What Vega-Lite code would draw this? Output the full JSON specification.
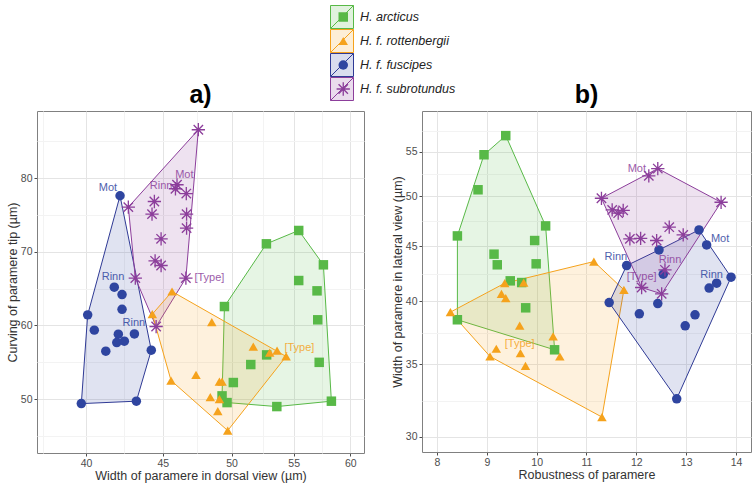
{
  "$schema": "https://vega.github.io/schema/vega-lite/v6.json",
  "padding": 5,
  "spacing": 25,
  "datasets": {
    "pts": [
      {"p": "a", "sp": "H. f. fuscipes", "x": 42.14, "y": 77.6, "h": 1},
      {"p": "a", "sp": "H. f. fuscipes", "x": 41.77, "y": 65.2, "h": null},
      {"p": "a", "sp": "H. f. fuscipes", "x": 42.27, "y": 64.2, "h": null},
      {"p": "a", "sp": "H. f. fuscipes", "x": 42.27, "y": 62.2, "h": null},
      {"p": "a", "sp": "H. f. fuscipes", "x": 40.10, "y": 61.44, "h": 5},
      {"p": "a", "sp": "H. f. fuscipes", "x": 40.51, "y": 59.37, "h": null},
      {"p": "a", "sp": "H. f. fuscipes", "x": 42.03, "y": 58.82, "h": null},
      {"p": "a", "sp": "H. f. fuscipes", "x": 43.08, "y": 58.86, "h": null},
      {"p": "a", "sp": "H. f. fuscipes", "x": 41.93, "y": 57.68, "h": null},
      {"p": "a", "sp": "H. f. fuscipes", "x": 42.42, "y": 57.87, "h": null},
      {"p": "a", "sp": "H. f. fuscipes", "x": 41.23, "y": 56.52, "h": null},
      {"p": "a", "sp": "H. f. fuscipes", "x": 44.21, "y": 56.65, "h": 2},
      {"p": "a", "sp": "H. f. fuscipes", "x": 39.71, "y": 49.4, "h": 4},
      {"p": "a", "sp": "H. f. fuscipes", "x": 43.21, "y": 49.73, "h": 3},
      {"p": "a", "sp": "H. f. subrotundus", "x": 47.52, "y": 86.56, "h": 1},
      {"p": "a", "sp": "H. f. subrotundus", "x": 42.68, "y": 76.06, "h": 5},
      {"p": "a", "sp": "H. f. subrotundus", "x": 45.99, "y": 79.09, "h": null},
      {"p": "a", "sp": "H. f. subrotundus", "x": 45.88, "y": 78.55, "h": null},
      {"p": "a", "sp": "H. f. subrotundus", "x": 46.65, "y": 77.9, "h": null},
      {"p": "a", "sp": "H. f. subrotundus", "x": 44.42, "y": 76.82, "h": null},
      {"p": "a", "sp": "H. f. subrotundus", "x": 44.26, "y": 75.11, "h": null},
      {"p": "a", "sp": "H. f. subrotundus", "x": 46.67, "y": 75.11, "h": null},
      {"p": "a", "sp": "H. f. subrotundus", "x": 46.67, "y": 73.21, "h": null},
      {"p": "a", "sp": "H. f. subrotundus", "x": 44.88, "y": 71.76, "h": null},
      {"p": "a", "sp": "H. f. subrotundus", "x": 44.47, "y": 68.77, "h": null},
      {"p": "a", "sp": "H. f. subrotundus", "x": 44.88, "y": 68.14, "h": null},
      {"p": "a", "sp": "H. f. subrotundus", "x": 43.14, "y": 66.43, "h": 4},
      {"p": "a", "sp": "H. f. subrotundus", "x": 46.62, "y": 66.43, "h": 2},
      {"p": "a", "sp": "H. f. subrotundus", "x": 44.54, "y": 59.86, "h": 3},
      {"p": "a", "sp": "H. arcticus", "x": 55.43, "y": 72.89, "h": 1},
      {"p": "a", "sp": "H. arcticus", "x": 52.75, "y": 71.08, "h": 8},
      {"p": "a", "sp": "H. arcticus", "x": 57.57, "y": 68.23, "h": 2},
      {"p": "a", "sp": "H. arcticus", "x": 55.43, "y": 66.1, "h": null},
      {"p": "a", "sp": "H. arcticus", "x": 57.01, "y": 64.7, "h": null},
      {"p": "a", "sp": "H. arcticus", "x": 49.46, "y": 62.57, "h": 7},
      {"p": "a", "sp": "H. arcticus", "x": 57.07, "y": 60.77, "h": null},
      {"p": "a", "sp": "H. arcticus", "x": 52.77, "y": 56.01, "h": null},
      {"p": "a", "sp": "H. arcticus", "x": 51.5, "y": 54.7, "h": null},
      {"p": "a", "sp": "H. arcticus", "x": 57.2, "y": 55.0, "h": null},
      {"p": "a", "sp": "H. arcticus", "x": 50.14, "y": 52.26, "h": null},
      {"p": "a", "sp": "H. arcticus", "x": 49.28, "y": 50.45, "h": 6},
      {"p": "a", "sp": "H. arcticus", "x": 49.66, "y": 49.54, "h": 5},
      {"p": "a", "sp": "H. arcticus", "x": 53.6, "y": 49.0, "h": 4},
      {"p": "a", "sp": "H. arcticus", "x": 58.28, "y": 49.73, "h": 3},
      {"p": "a", "sp": "H. f. rottenbergii", "x": 45.64, "y": 64.61, "h": 1},
      {"p": "a", "sp": "H. f. rottenbergii", "x": 44.28, "y": 61.54, "h": 5},
      {"p": "a", "sp": "H. f. rottenbergii", "x": 48.51, "y": 60.45, "h": null},
      {"p": "a", "sp": "H. f. rottenbergii", "x": 51.7, "y": 57.14, "h": null},
      {"p": "a", "sp": "H. f. rottenbergii", "x": 53.02, "y": 56.33, "h": null},
      {"p": "a", "sp": "H. f. rottenbergii", "x": 53.62, "y": 56.6, "h": null},
      {"p": "a", "sp": "H. f. rottenbergii", "x": 54.37, "y": 55.8, "h": 2},
      {"p": "a", "sp": "H. f. rottenbergii", "x": 45.57, "y": 52.53, "h": 4},
      {"p": "a", "sp": "H. f. rottenbergii", "x": 47.35, "y": 53.3, "h": null},
      {"p": "a", "sp": "H. f. rottenbergii", "x": 49.08, "y": 52.39, "h": null},
      {"p": "a", "sp": "H. f. rottenbergii", "x": 49.28, "y": 52.39, "h": null},
      {"p": "a", "sp": "H. f. rottenbergii", "x": 48.4, "y": 50.27, "h": null},
      {"p": "a", "sp": "H. f. rottenbergii", "x": 49.08, "y": 50.0, "h": null},
      {"p": "a", "sp": "H. f. rottenbergii", "x": 48.96, "y": 48.37, "h": null},
      {"p": "a", "sp": "H. f. rottenbergii", "x": 49.71, "y": 45.74, "h": 3},
      {"p": "b", "sp": "H. arcticus", "x": 9.38, "y": 56.91, "h": 1},
      {"p": "b", "sp": "H. arcticus", "x": 8.944, "y": 54.64, "h": 6},
      {"p": "b", "sp": "H. arcticus", "x": 8.824, "y": 50.72, "h": null},
      {"p": "b", "sp": "H. arcticus", "x": 8.41, "y": 45.98, "h": 5},
      {"p": "b", "sp": "H. arcticus", "x": 10.18, "y": 46.97, "h": 2},
      {"p": "b", "sp": "H. arcticus", "x": 9.96, "y": 45.53, "h": null},
      {"p": "b", "sp": "H. arcticus", "x": 9.145, "y": 44.23, "h": null},
      {"p": "b", "sp": "H. arcticus", "x": 9.21, "y": 43.24, "h": null},
      {"p": "b", "sp": "H. arcticus", "x": 9.99, "y": 43.33, "h": null},
      {"p": "b", "sp": "H. arcticus", "x": 9.47, "y": 41.79, "h": null},
      {"p": "b", "sp": "H. arcticus", "x": 9.7, "y": 41.64, "h": null},
      {"p": "b", "sp": "H. arcticus", "x": 9.78, "y": 39.46, "h": null},
      {"p": "b", "sp": "H. arcticus", "x": 8.41, "y": 38.47, "h": 4},
      {"p": "b", "sp": "H. arcticus", "x": 10.36, "y": 36.09, "h": 3},
      {"p": "b", "sp": "H. f. rottenbergii", "x": 9.36, "y": 41.58, "h": 2},
      {"p": "b", "sp": "H. f. rottenbergii", "x": 9.74, "y": 41.64, "h": null},
      {"p": "b", "sp": "H. f. rottenbergii", "x": 9.294, "y": 40.65, "h": null},
      {"p": "b", "sp": "H. f. rottenbergii", "x": 9.38, "y": 40.28, "h": null},
      {"p": "b", "sp": "H. f. rottenbergii", "x": 8.27, "y": 39.1, "h": 1},
      {"p": "b", "sp": "H. f. rottenbergii", "x": 9.66, "y": 37.99, "h": null},
      {"p": "b", "sp": "H. f. rottenbergii", "x": 10.33, "y": 37.13, "h": null},
      {"p": "b", "sp": "H. f. rottenbergii", "x": 9.19, "y": 36.17, "h": null},
      {"p": "b", "sp": "H. f. rottenbergii", "x": 9.065, "y": 35.58, "h": 6},
      {"p": "b", "sp": "H. f. rottenbergii", "x": 9.675, "y": 35.84, "h": null},
      {"p": "b", "sp": "H. f. rottenbergii", "x": 10.465, "y": 35.58, "h": null},
      {"p": "b", "sp": "H. f. rottenbergii", "x": 9.776, "y": 34.88, "h": null},
      {"p": "b", "sp": "H. f. rottenbergii", "x": 11.31, "y": 31.28, "h": 5},
      {"p": "b", "sp": "H. f. rottenbergii", "x": 11.148, "y": 43.54, "h": 3},
      {"p": "b", "sp": "H. f. rottenbergii", "x": 11.75, "y": 41.0, "h": 4},
      {"p": "b", "sp": "H. f. fuscipes", "x": 13.257, "y": 46.57, "h": 1},
      {"p": "b", "sp": "H. f. fuscipes", "x": 13.41, "y": 45.11, "h": null},
      {"p": "b", "sp": "H. f. fuscipes", "x": 12.454, "y": 44.63, "h": 6},
      {"p": "b", "sp": "H. f. fuscipes", "x": 11.805, "y": 43.17, "h": 5},
      {"p": "b", "sp": "H. f. fuscipes", "x": 13.9, "y": 42.12, "h": 2},
      {"p": "b", "sp": "H. f. fuscipes", "x": 12.54, "y": 42.39, "h": null},
      {"p": "b", "sp": "H. f. fuscipes", "x": 13.61, "y": 41.58, "h": null},
      {"p": "b", "sp": "H. f. fuscipes", "x": 13.46, "y": 41.15, "h": null},
      {"p": "b", "sp": "H. f. fuscipes", "x": 11.455, "y": 39.9, "h": 4},
      {"p": "b", "sp": "H. f. fuscipes", "x": 12.43, "y": 39.82, "h": null},
      {"p": "b", "sp": "H. f. fuscipes", "x": 12.06, "y": 38.96, "h": null},
      {"p": "b", "sp": "H. f. fuscipes", "x": 13.177, "y": 38.88, "h": null},
      {"p": "b", "sp": "H. f. fuscipes", "x": 12.98, "y": 37.98, "h": null},
      {"p": "b", "sp": "H. f. fuscipes", "x": 12.81, "y": 32.52, "h": 3},
      {"p": "b", "sp": "H. f. subrotundus", "x": 12.43, "y": 53.06, "h": 1},
      {"p": "b", "sp": "H. f. subrotundus", "x": 12.25, "y": 52.24, "h": null},
      {"p": "b", "sp": "H. f. subrotundus", "x": 11.3, "y": 49.81, "h": 5},
      {"p": "b", "sp": "H. f. subrotundus", "x": 13.7, "y": 49.39, "h": 2},
      {"p": "b", "sp": "H. f. subrotundus", "x": 11.515, "y": 48.6, "h": null},
      {"p": "b", "sp": "H. f. subrotundus", "x": 11.636, "y": 48.26, "h": null},
      {"p": "b", "sp": "H. f. subrotundus", "x": 11.736, "y": 48.55, "h": null},
      {"p": "b", "sp": "H. f. subrotundus", "x": 12.66, "y": 46.84, "h": null},
      {"p": "b", "sp": "H. f. subrotundus", "x": 12.94, "y": 46.08, "h": null},
      {"p": "b", "sp": "H. f. subrotundus", "x": 11.87, "y": 45.69, "h": null},
      {"p": "b", "sp": "H. f. subrotundus", "x": 12.086, "y": 45.74, "h": null},
      {"p": "b", "sp": "H. f. subrotundus", "x": 12.407, "y": 45.53, "h": null},
      {"p": "b", "sp": "H. f. subrotundus", "x": 12.574, "y": 42.78, "h": null},
      {"p": "b", "sp": "H. f. subrotundus", "x": 12.106, "y": 41.2, "h": 4},
      {"p": "b", "sp": "H. f. subrotundus", "x": 12.508, "y": 40.65, "h": 3}
    ],
    "labs": [
      {"p": "a", "sp": "H. f. fuscipes", "t": "Mot", "x": 41.37, "y": 78.68},
      {"p": "a", "sp": "H. f. fuscipes", "t": "Rinn", "x": 41.69, "y": 66.6},
      {"p": "a", "sp": "H. f. fuscipes", "t": "Rinn", "x": 43.04, "y": 60.35},
      {"p": "a", "sp": "H. f. subrotundus", "t": "Rinn", "x": 44.88, "y": 78.95},
      {"p": "a", "sp": "H. f. subrotundus", "t": "Mot", "x": 46.51, "y": 80.45},
      {"p": "a", "sp": "H. f. subrotundus", "t": "[Type]", "x": 48.33, "y": 66.43},
      {"p": "a", "sp": "H. f. rottenbergii", "t": "[Type]", "x": 55.49, "y": 57.0},
      {"p": "b", "sp": "H. f. subrotundus", "t": "Mot", "x": 12.01, "y": 53.06},
      {"p": "b", "sp": "H. f. fuscipes", "t": "Mot", "x": 13.68, "y": 45.66},
      {"p": "b", "sp": "H. f. fuscipes", "t": "Rinn", "x": 11.59, "y": 44.0},
      {"p": "b", "sp": "H. f. subrotundus", "t": "Rinn", "x": 12.675, "y": 43.7},
      {"p": "b", "sp": "H. f. fuscipes", "t": "Rinn", "x": 13.51, "y": 42.32},
      {"p": "b", "sp": "H. f. subrotundus", "t": "[Type]", "x": 12.106, "y": 42.12},
      {"p": "b", "sp": "H. f. rottenbergii", "t": "[Type]", "x": 9.66, "y": 36.55}
    ]
  },
  "hconcat": [
    {
      "width": 327,
      "height": 342,
      "title": "a)",
      "layer": [
        {
          "data": {"name": "pts"},
          "transform": [{"filter": "datum.p === 'a' && isValid(datum.h)"}],
          "mark": {"type": "line", "interpolate": "linear-closed", "fillOpacity": 0.15, "strokeWidth": 1},
          "encoding": {
            "x": {"field": "x", "type": "quantitative", "scale": {"type": "log", "domain": [37.1, 61.27], "nice": false, "zero": false},
              "axis": {"title": "Width of paramere in dorsal view (µm)", "values": [37.42, 40, 42.43, 45, 47.43, 50, 52.44, 55, 57.45, 60],
                "labelExpr": "datum.value % 5 === 0 ? format(datum.value, 'd') : ''",
                "gridColor": {"condition": {"test": "datum.value % 5 === 0", "value": "#e4e4e4"}, "value": "#f3f3f3"},
                "tickOpacity": {"condition": {"test": "datum.value % 5 === 0", "value": 1}, "value": 0}}},
            "y": {"field": "y", "type": "quantitative", "scale": {"domain": [42.7, 89.1], "nice": false, "zero": false},
              "axis": {"title": "Curving of paramere tip (µm)", "values": [45, 50, 55, 60, 65, 70, 75, 80, 85],
                "labelExpr": "datum.value % 10 === 0 ? format(datum.value, 'd') : ''",
                "gridColor": {"condition": {"test": "datum.value % 10 === 0", "value": "#e4e4e4"}, "value": "#f3f3f3"},
                "tickOpacity": {"condition": {"test": "datum.value % 10 === 0", "value": 1}, "value": 0}}},
            "order": {"field": "h", "type": "quantitative"},
            "fill": {"field": "sp", "type": "nominal",
              "scale": {"domain": ["H. arcticus", "H. f. rottenbergii", "H. f. fuscipes", "H. f. subrotundus"], "range": ["#58b947", "#f5a21c", "#2f45a0", "#8c3e9b"]},
              "legend": {"orient": "none", "legendX": 293, "legendY": -106, "title": null, "symbolType": "M-1,-1H1V1H-1ZM-1,1L1,-1", "symbolSize": 529, "clipHeight": 24, "rowPadding": 0, "labelOffset": 6, "symbolStrokeWidth": 1, "padding": 0,
                "encode": {"symbols": {"update": {"fill": {"scale": "fill", "field": "value"}, "stroke": {"scale": "stroke", "field": "value"}, "fillOpacity": {"value": 0.18}, "strokeOpacity": {"value": 1}, "opacity": {"value": 1}}}}}},
            "stroke": {"field": "sp", "type": "nominal",
              "scale": {"domain": ["H. arcticus", "H. f. rottenbergii", "H. f. fuscipes", "H. f. subrotundus"], "range": ["#58b947", "#f5a21c", "#2f3a95", "#8c3e9b"]}}
          }
        },
        {
          "data": {"name": "pts"},
          "transform": [{"filter": "datum.p === 'a'"}],
          "mark": {"type": "point", "filled": true, "size": 90, "opacity": 1},
          "encoding": {
            "x": {"field": "x", "type": "quantitative"},
            "y": {"field": "y", "type": "quantitative"},
            "color": {"field": "sp", "type": "nominal",
              "scale": {"range": ["#58b947", "#2f45a0", "#f5a21c", "#8c3e9b"]},
              "legend": {"orient": "none", "legendX": 293, "legendY": -106, "title": null, "values": ["H. arcticus", "H. f. rottenbergii", "H. f. fuscipes", "H. f. subrotundus"], "symbolSize": 90, "clipHeight": 24, "rowPadding": 0, "symbolOffset": 7, "labelExpr": "''", "padding": 0, "symbolStrokeWidth": 0}},
            "shape": {"field": "sp", "type": "nominal",
              "scale": {"range": ["square", "circle", "triangle-up", "M-1.4,-0.14L1.4,-0.14L1.4,0.14L-1.4,0.14ZM-0.14,-1.4L0.14,-1.4L0.14,1.4L-0.14,1.4ZM-0.891,-1.089L1.089,0.891L0.891,1.089L-1.089,-0.891ZM-1.089,0.891L0.891,-1.089L1.089,-0.891L-0.891,1.089Z"]},
              "legend": {"orient": "none", "legendX": 293, "legendY": -106, "title": null, "values": ["H. arcticus", "H. f. rottenbergii", "H. f. fuscipes", "H. f. subrotundus"], "symbolSize": 90, "clipHeight": 24, "rowPadding": 0, "symbolOffset": 7, "labelExpr": "''", "padding": 0, "symbolStrokeWidth": 0}}
          }
        },
        {
          "data": {"name": "labs"},
          "transform": [{"filter": "datum.p === 'a'"}],
          "mark": {"type": "text", "fontSize": 11, "opacity": 0.85},
          "encoding": {
            "x": {"field": "x", "type": "quantitative"},
            "y": {"field": "y", "type": "quantitative"},
            "text": {"field": "t"},
            "fill": {"field": "sp", "type": "nominal"}
          }
        }
      ]
    },
    {
      "width": 329,
      "height": 341,
      "title": "b)",
      "layer": [
        {
          "data": {"name": "pts"},
          "transform": [{"filter": "datum.p === 'b' && isValid(datum.h)"}],
          "mark": {"type": "line", "interpolate": "linear-closed", "fillOpacity": 0.15, "strokeWidth": 1},
          "encoding": {
            "x": {"field": "x", "type": "quantitative", "scale": {"domain": [7.7, 14.3], "nice": false, "zero": false},
              "axis": {"title": "Robustness of paramere", "values": [8, 8.5, 9, 9.5, 10, 10.5, 11, 11.5, 12, 12.5, 13, 13.5, 14],
                "labelExpr": "datum.value % 1 === 0 ? format(datum.value, 'd') : ''",
                "gridColor": {"condition": {"test": "datum.value % 1 === 0", "value": "#e4e4e4"}, "value": "#f3f3f3"},
                "tickOpacity": {"condition": {"test": "datum.value % 1 === 0", "value": 1}, "value": 0}}},
            "y": {"field": "y", "type": "quantitative", "scale": {"type": "log", "domain": [29.04, 59.97], "nice": false, "zero": false},
              "axis": {"title": "Width of paramere in lateral view (µm)", "values": [30, 32.4, 35, 37.42, 40, 42.43, 45, 47.43, 50, 52.44, 55, 57.45],
                "labelExpr": "datum.value % 5 === 0 ? format(datum.value, 'd') : ''",
                "gridColor": {"condition": {"test": "datum.value % 5 === 0", "value": "#e4e4e4"}, "value": "#f3f3f3"},
                "tickOpacity": {"condition": {"test": "datum.value % 5 === 0", "value": 1}, "value": 0}}},
            "order": {"field": "h", "type": "quantitative"},
            "fill": {"field": "sp", "type": "nominal",
              "scale": {"domain": ["H. arcticus", "H. f. rottenbergii", "H. f. fuscipes", "H. f. subrotundus"], "range": ["#58b947", "#f5a21c", "#2f45a0", "#8c3e9b"]},
              "legend": {"orient": "none", "legendX": 293, "legendY": -106, "title": null, "symbolType": "M-1,-1H1V1H-1ZM-1,1L1,-1", "symbolSize": 529, "clipHeight": 24, "rowPadding": 0, "labelOffset": 6, "symbolStrokeWidth": 1, "padding": 0,
                "encode": {"symbols": {"update": {"fill": {"scale": "fill", "field": "value"}, "stroke": {"scale": "stroke", "field": "value"}, "fillOpacity": {"value": 0.18}, "strokeOpacity": {"value": 1}, "opacity": {"value": 1}}}}}},
            "stroke": {"field": "sp", "type": "nominal",
              "scale": {"domain": ["H. arcticus", "H. f. rottenbergii", "H. f. fuscipes", "H. f. subrotundus"], "range": ["#58b947", "#f5a21c", "#2f3a95", "#8c3e9b"]}}
          }
        },
        {
          "data": {"name": "pts"},
          "transform": [{"filter": "datum.p === 'b'"}],
          "mark": {"type": "point", "filled": true, "size": 90, "opacity": 1},
          "encoding": {
            "x": {"field": "x", "type": "quantitative"},
            "y": {"field": "y", "type": "quantitative"},
            "color": {"field": "sp", "type": "nominal",
              "scale": {"range": ["#58b947", "#2f45a0", "#f5a21c", "#8c3e9b"]},
              "legend": {"orient": "none", "legendX": 293, "legendY": -106, "title": null, "values": ["H. arcticus", "H. f. rottenbergii", "H. f. fuscipes", "H. f. subrotundus"], "symbolSize": 90, "clipHeight": 24, "rowPadding": 0, "symbolOffset": 7, "labelExpr": "''", "padding": 0, "symbolStrokeWidth": 0}},
            "shape": {"field": "sp", "type": "nominal",
              "scale": {"range": ["square", "circle", "triangle-up", "M-1.4,-0.14L1.4,-0.14L1.4,0.14L-1.4,0.14ZM-0.14,-1.4L0.14,-1.4L0.14,1.4L-0.14,1.4ZM-0.891,-1.089L1.089,0.891L0.891,1.089L-1.089,-0.891ZM-1.089,0.891L0.891,-1.089L1.089,-0.891L-0.891,1.089Z"]},
              "legend": {"orient": "none", "legendX": 293, "legendY": -106, "title": null, "values": ["H. arcticus", "H. f. rottenbergii", "H. f. fuscipes", "H. f. subrotundus"], "symbolSize": 90, "clipHeight": 24, "rowPadding": 0, "symbolOffset": 7, "labelExpr": "''", "padding": 0, "symbolStrokeWidth": 0}}
          }
        },
        {
          "data": {"name": "labs"},
          "transform": [{"filter": "datum.p === 'b'"}],
          "mark": {"type": "text", "fontSize": 11, "opacity": 0.85},
          "encoding": {
            "x": {"field": "x", "type": "quantitative"},
            "y": {"field": "y", "type": "quantitative"},
            "text": {"field": "t"},
            "fill": {"field": "sp", "type": "nominal"}
          }
        }
      ]
    }
  ],
  "config": {
    "font": "Liberation Sans",
    "view": {"stroke": "#808080", "strokeWidth": 1},
    "title": {"fontSize": 25, "fontWeight": "bold", "color": "#000000", "anchor": "middle", "offset": 3, "font": "Liberation Sans"},
    "axis": {"domain": false, "grid": true, "labelFont": "Liberation Sans", "labelFontSize": 10.5, "labelColor": "#4d4d4d", "labelPadding": 2, "labelFlush": false, "labelOverlap": false,
      "tickColor": "#4d4d4d", "tickSize": 3, "titleFont": "Liberation Sans", "titleFontSize": 12.5, "titleFontWeight": "normal", "titleColor": "#333333", "titlePadding": 1},
    "legend": {"labelFont": "Liberation Sans", "labelFontStyle": "italic", "labelFontSize": 12.5, "labelColor": "#222222"}
  }
}
